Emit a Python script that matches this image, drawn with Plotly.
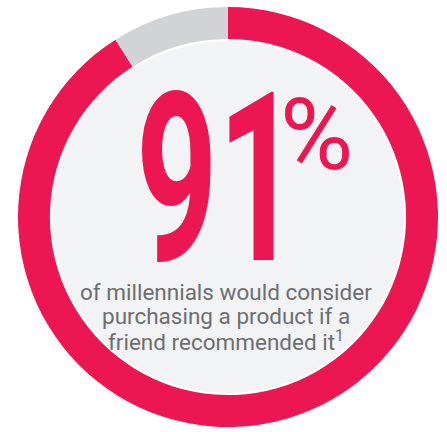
import plotly.graph_objects as go

labels = ["Would consider", "Would not"]
values = [91, 9]
colors = ["#EC1652", "#D1D3D4"]
headline = "91"
pct = "%"
lines = ["of millennials would consider", "purchasing a product if a", "friend recommended it<sup>1</sup>"]

W, H = 447, 432
cx, cy, R = 228, 217, 210
r_in = 176

fig = go.Figure(go.Pie(
    labels=labels, values=values, hole=0.848, sort=False, direction="clockwise",
    rotation=0, marker=dict(colors=colors, line=dict(width=0)),
    textinfo="none", hoverinfo="skip",
    domain=dict(x=[(cx - R) / W, (cx + R) / W], y=[(H - cy - R) / H, (H - cy + R) / H]),
))

fig.add_shape(type="circle", xref="paper", yref="paper",
              x0=(cx - r_in) / W, x1=(cx + r_in) / W,
              y0=(H - cy - r_in) / H, y1=(H - cy + r_in) / H,
              fillcolor="#F2F3F5", line=dict(width=0), layer="above")

ann = []
ann.append(dict(text=headline, x=217.5 / W, y=(H - 180) / H, xanchor="center", yanchor="middle",
                font=dict(family="Roboto", size=235, color="#EC1652", weight="bold")))
ann.append(dict(text=pct, x=316 / W, y=(H - 134) / H, xanchor="center", yanchor="middle",
                font=dict(family="Roboto", size=100, color="#EC1652")))
ys = [292, 316, 340]
for t, yy in zip(lines, ys):
    ann.append(dict(text=t, x=226 / W, y=(H - yy) / H, xanchor="center", yanchor="middle",
                    font=dict(family="Roboto", size=22.5, color="#6D6E71")))
for a in ann:
    a.update(xref="paper", yref="paper", showarrow=False)
fig.update_layout(width=W, height=H, margin=dict(l=0, r=0, t=0, b=0), showlegend=False,
                  paper_bgcolor="white", plot_bgcolor="white", annotations=ann)

# condense the big headline horizontally (the reference uses a condensed typeface)
js = """
var gd = document.getElementById('{plot_id}');
var el = gd.querySelector('g.annotation[data-index="0"] text.annotation-text');
if (el) {
  var b = el.getBBox();
  var c = b.x + b.width / 2;
  var s = 0.607;
  var t = el.getAttribute('transform') || '';
  el.setAttribute('transform', t + ' translate(' + c + ',0) scale(' + s + ',1) translate(' + (-c) + ',0)');
}
"""
fig.write_html("out.html", post_script=js)
